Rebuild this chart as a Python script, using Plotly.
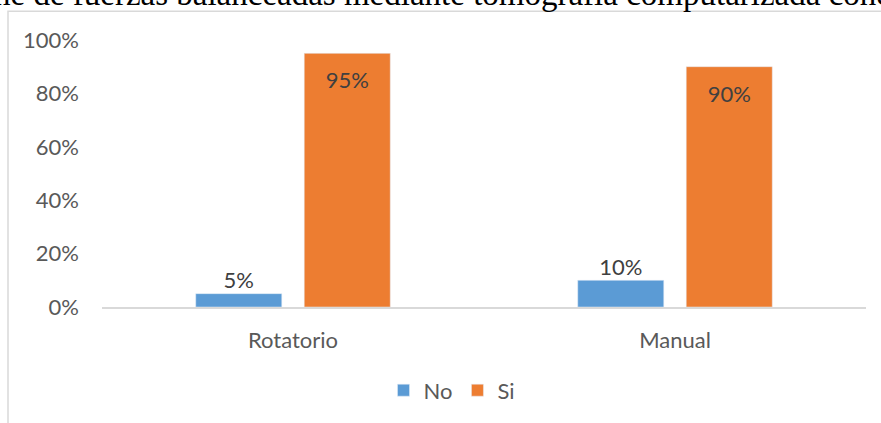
import plotly.graph_objects as go

categories = ["Rotatorio", "Manual"]
no_values = [0.05, 0.10]
si_values = [0.95, 0.90]
no_labels = ["5%", "10%"]
si_labels = ["95%", "90%"]
y_ticks = [0, 0.2, 0.4, 0.6, 0.8, 1.0]
y_tick_labels = ["0%", "20%", "40%", "60%", "80%", "100%"]
page_text = "ne de fuerzas balanceadas mediante tomografía computarizada cone"

BLUE = "#5B9BD5"
ORANGE = "#ED7D31"
TICK = "#595959"
LABEL = "#404040"
FONT = "Lato"
FS = 22

W, H = 881, 423
ML, MR, MT, MB = 102, 15, 40, 114
PW = W - ML - MR
PH = H - MT - MB

def px_x(p):
    return (p - ML) / PW

def px_y(p):
    return (H - MB - p) / PH

fig = go.Figure()
fig.add_trace(go.Bar(name="No", x=categories, y=no_values, marker_color=BLUE,
                     offsetgroup="no", hoverinfo="skip"))
fig.add_trace(go.Bar(name="Si", x=categories, y=si_values, marker_color=ORANGE,
                     offsetgroup="si", hoverinfo="skip"))

fig.add_trace(go.Scatter(x=categories, y=no_values, text=no_labels, mode="text",
                         textposition="top center", offsetgroup="no",
                         textfont=dict(family=FONT, size=FS, color=LABEL),
                         showlegend=False, hoverinfo="skip", cliponaxis=False))
fig.add_trace(go.Scatter(x=categories, y=si_values, text=si_labels, mode="markers+text",
                         marker=dict(size=28, opacity=0),
                         textposition="bottom center", offsetgroup="si",
                         textfont=dict(family=FONT, size=FS, color=LABEL),
                         showlegend=False, hoverinfo="skip", cliponaxis=False))

fig.update_layout(
    width=W, height=H,
    margin=dict(l=ML, r=MR, t=MT, b=MB),
    paper_bgcolor="white", plot_bgcolor="white",
    barmode="group", scattermode="group",
    bargap=0.432, bargroupgap=0.207,
    font=dict(family=FONT, size=FS, color=TICK),
    showlegend=True,
    legend=dict(orientation="h", x=px_x(452), xanchor="center",
                y=px_y(393), yanchor="middle",
                font=dict(family=FONT, size=FS, color=TICK),
                itemwidth=30, tracegroupgap=0, bgcolor="rgba(0,0,0,0)"),
    xaxis=dict(showgrid=False, zeroline=False, showline=True, linecolor="#d9d9d9",
               linewidth=1.5, ticks="", ticklabelstandoff=13,
               tickfont=dict(family=FONT, size=FS, color=TICK)),
    yaxis=dict(range=[0, 1], tickvals=y_ticks, ticktext=y_tick_labels,
               showgrid=False, zeroline=False, showline=False, ticks="",
               ticklabelstandoff=22,
               tickfont=dict(family=FONT, size=FS, color=TICK)),
    shapes=[dict(type="rect", xref="paper", yref="paper",
                 x0=px_x(8), x1=px_x(W + 20), y0=px_y(H + 20), y1=px_y(11),
                 line=dict(color="#d9d9d9", width=1.5), fillcolor="rgba(0,0,0,0)",
                 layer="below")],
    annotations=[dict(text=page_text, xref="paper", yref="paper",
                      x=px_x(-8), xanchor="left", y=px_y(-6), yanchor="middle",
                      showarrow=False,
                      font=dict(family="Liberation Serif", size=33, color="black"))],
)

fig.write_html("out.html")
